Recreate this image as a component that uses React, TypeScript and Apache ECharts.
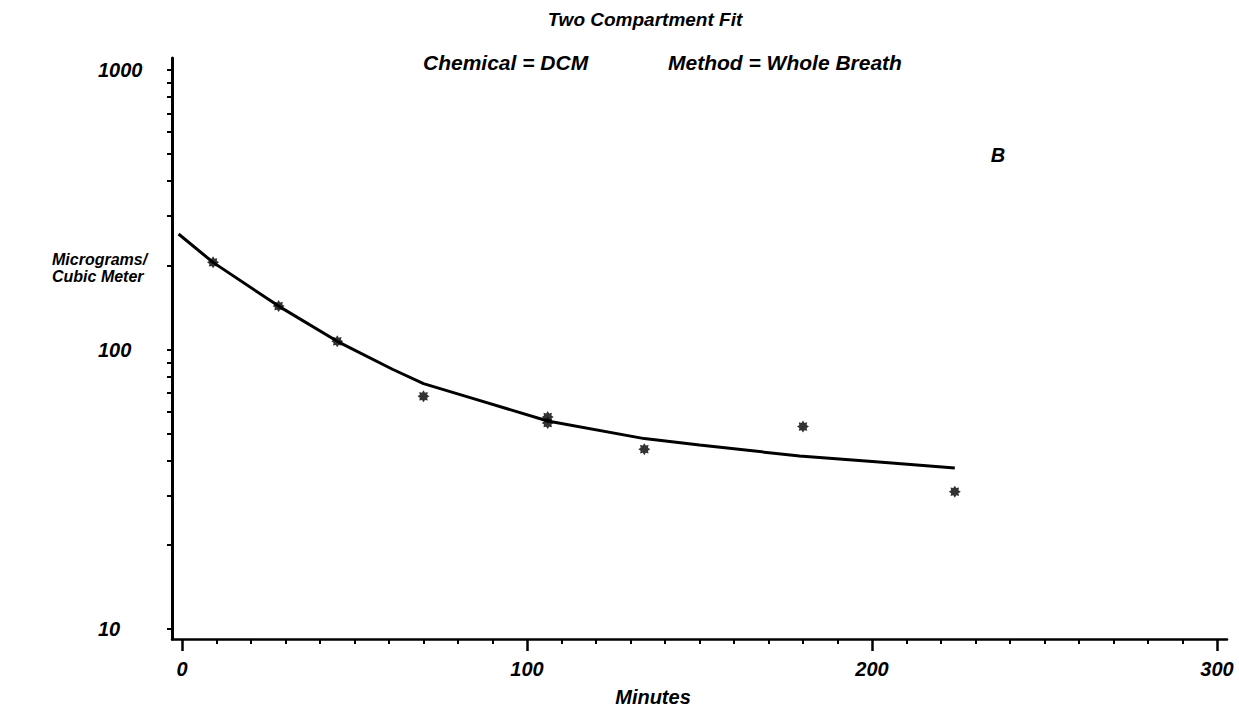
import React, { useEffect, useRef } from 'react';
import * as echarts from 'echarts';

// Measured samples (minutes, micrograms / cubic meter)
const sampleMinutes = [9, 28, 45, 70, 106, 106, 134, 180, 224];
const sampleValues = [205, 143, 107, 68, 57.3, 54.6, 44, 53, 31];

// Two compartment fitted curve
const fitMinutes = [-1, 9, 28, 45, 61, 70, 84, 106, 134, 150, 179, 202, 224];
const fitValues = [259, 205, 143, 107, 85, 75.5, 67, 55.5, 48, 45.5, 41.6, 39.6, 37.7];

// Axis ticks
const xMajorTicks = [0, 100, 200, 300];
const xMinorTicks = [10, 20, 30, 40, 50, 60, 70, 80, 90, 110, 120, 130, 140, 150, 160, 170, 180, 190,
  210, 220, 230, 240, 250, 260, 270, 280, 290];
const yLabelTicks = [10, 100, 1000];
const yAllTicks = [10, 20, 30, 40, 50, 60, 70, 80, 90, 100, 200, 300, 400, 500, 600, 700, 800, 900, 1000];

const titleText = 'Two Compartment Fit';
const chemicalText = 'Chemical = DCM';
const methodText = 'Method = Whole Breath';
const panelText = 'B';
const yNameLines = ['Micrograms/', 'Cubic Meter'];
const xNameText = 'Minutes';

const FONT = '"Liberation Sans", Arial, Helvetica, sans-serif';
const INK = '#000';

const starPath =
  'path://M10,5 L8.05,6.26 L8.54,8.54 L6.26,8.05 L5,10 L3.74,8.05 L1.46,8.54 L1.95,6.26 L0,5 L1.95,3.74 L1.46,1.46 L3.74,1.95 L5,0 L6.26,1.95 L8.54,1.46 L8.05,3.74 Z';

function txt(text: string, x: number, y: number, size: number, align: string) {
  return {
    type: 'text',
    x,
    y,
    style: {
      text,
      font: `italic bold ${size}px ${FONT}`,
      fill: INK,
      align,
      verticalAlign: 'middle',
      textAlign: align,
      textVerticalAlign: 'middle',
    },
  };
}

export default function App() {
  const ref = useRef<HTMLDivElement>(null);

  useEffect(() => {
    if (!ref.current) return;
    const chart = echarts.init(ref.current, undefined, { renderer: 'svg' });
    const labelStyle = {
      fontFamily: FONT,
      fontStyle: 'italic' as const,
      fontWeight: 'bold' as const,
      fontSize: 20,
      color: INK,
    };
    const xMin = -2.9;
    const xMax = 302.9;
    chart.setOption({
      animation: false,
      backgroundColor: '#fff',
      grid: { left: 172, right: 12, top: 58, bottom: 70, containLabel: false },
      xAxis: [
        {
          type: 'value',
          min: xMin,
          max: xMax,
          position: 'bottom',
          axisLine: { show: true, onZero: false, lineStyle: { color: INK, width: 2.5 } },
          axisTick: { show: true, length: 12, customValues: xMajorTicks, lineStyle: { color: INK, width: 2.5 } },
          axisLabel: {
            ...labelStyle,
            margin: 20,
            customValues: xMajorTicks,
            formatter: (v: number) => String(Math.round(v)),
          },
          splitLine: { show: false },
        },
        {
          type: 'value',
          min: xMin,
          max: xMax,
          position: 'bottom',
          axisLine: { show: false, onZero: false },
          axisTick: { show: true, length: 5, customValues: xMinorTicks, lineStyle: { color: INK, width: 2 } },
          axisLabel: { show: false },
          splitLine: { show: false },
        },
      ],
      yAxis: [
        {
          type: 'log',
          logBase: 10,
          min: 9.21,
          max: 1104,
          axisLine: { show: true, onZero: false, lineStyle: { color: INK, width: 3 } },
          axisTick: { show: true, length: 5, customValues: yAllTicks, lineStyle: { color: INK, width: 2 } },
          minorTick: { show: false },
          axisLabel: {
            ...labelStyle,
            margin: 74,
            align: 'left',
            customValues: yLabelTicks,
            formatter: (v: number) => String(Math.round(v)),
          },
          splitLine: { show: false },
        },
      ],
      graphic: [
        txt(titleText, 645, 19, 19, 'center'),
        txt(chemicalText, 423, 62, 21, 'left'),
        txt(methodText, 668, 62, 21, 'left'),
        txt(panelText, 998, 155, 20, 'center'),
        txt(yNameLines[0], 52, 259, 16, 'left'),
        txt(yNameLines[1], 52, 276, 16, 'left'),
        txt(xNameText, 653, 697, 20, 'center'),
      ],
      series: [
        {
          type: 'line',
          xAxisIndex: 0,
          yAxisIndex: 0,
          data: fitMinutes.map((m, i) => [m, fitValues[i]]),
          showSymbol: false,
          symbol: 'none',
          smooth: false,
          lineStyle: { color: INK, width: 3 },
          z: 2,
        },
        {
          type: 'scatter',
          xAxisIndex: 0,
          yAxisIndex: 0,
          data: sampleMinutes.map((m, i) => [m, sampleValues[i]]),
          symbol: starPath,
          symbolSize: 12,
          itemStyle: { color: INK },
          z: 3,
        },
      ],
    });
    return () => chart.dispose();
  }, []);

  return (
    <div
      ref={ref}
      style={{ position: 'absolute', left: 0, top: 0, width: 1239, height: 709, background: '#fff' }}
    />
  );
}
